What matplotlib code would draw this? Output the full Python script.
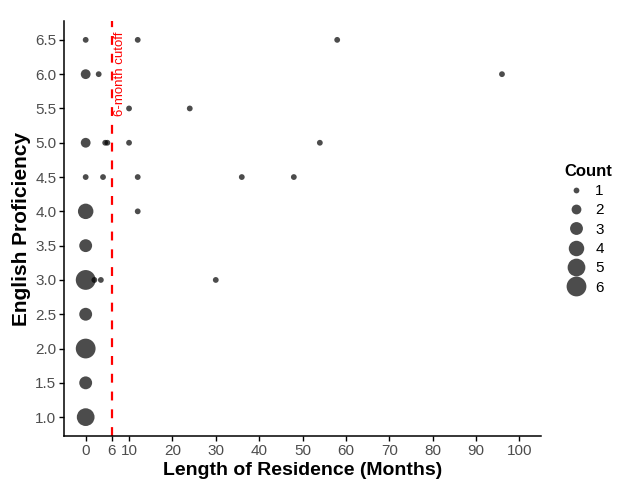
import numpy as np
import matplotlib
matplotlib.use("Agg")
import matplotlib.pyplot as plt
from matplotlib.lines import Line2D

plt.rcParams['font.family'] = ['Liberation Sans', 'DejaVu Sans']

# length of residence (months), english proficiency, number of respondents at that spot
months = [0, 12, 58,
          0, 3, 96,
          10, 24,
          0, 4.5, 5, 10, 54,
          0, 4, 12, 36, 48,
          0, 12,
          0,
          0, 2, 3.5, 30,
          0,
          0,
          0,
          0]
proficiency = [6.5, 6.5, 6.5,
               6.0, 6.0, 6.0,
               5.5, 5.5,
               5.0, 5.0, 5.0, 5.0, 5.0,
               4.5, 4.5, 4.5, 4.5, 4.5,
               4.0, 4.0,
               3.5,
               3.0, 3.0, 3.0, 3.0,
               2.5,
               2.0,
               1.5,
               1.0]
count = [1, 1, 1,
         2, 1, 1,
         1, 1,
         2, 1, 1, 1, 1,
         1, 1, 1, 1, 1,
         4, 1,
         3,
         6, 1, 1, 1,
         3,
         6,
         3,
         5]

cutoff = 6
x_ticks = [0, 6, 10, 20, 30, 40, 50, 60, 70, 80, 90, 100]
y_ticks = [1.0, 1.5, 2.0, 2.5, 3.0, 3.5, 4.0, 4.5, 5.0, 5.5, 6.0, 6.5]
legend_counts = [1, 2, 3, 4, 5, 6]


def diam_pt(c):
    # area-style size scale like ggplot's scale_size (range 1..6)
    size = 1 + 5 * (np.sqrt(c) - 1) / (np.sqrt(6) - 1)
    return (2.8 * size + 3) * 0.72


fig = plt.figure(figsize=(6.17, 4.8), dpi=100)
ax = fig.add_axes([64 / 617, 44 / 480, 477 / 617, 415 / 480])

d = np.array([diam_pt(c) for c in count])
ax.scatter(months, proficiency, s=d ** 2, color='black', alpha=0.7,
           linewidths=0, zorder=3)

ax.axvline(cutoff, color='#FF0000', linewidth=1.6, linestyle=(0, (4, 4)), zorder=2)
ax.text(8.0, 6.0, '6-month cutoff', color='#FF0000', fontsize=9.5,
        rotation=90, ha='center', va='center')

ax.set_xlim(-5, 105)
ax.set_ylim(0.725, 6.775)
ax.set_xticks(x_ticks)
ax.set_yticks(y_ticks)
ax.set_yticklabels(['%.1f' % v for v in y_ticks])

for s in ['top', 'right']:
    ax.spines[s].set_visible(False)
for s in ['left', 'bottom']:
    ax.spines[s].set_linewidth(1.1)
    ax.spines[s].set_color('black')
ax.tick_params(length=3.5, width=1.0, color='black', labelsize=11,
               labelcolor='#4d4d4d', pad=2)

ax.set_xlabel('Length of Residence (Months)', fontsize=14,
              fontweight='bold', labelpad=3)
ax.set_ylabel('English Proficiency', fontsize=15, fontweight='bold',
              labelpad=3)

handles = [Line2D([], [], marker='o', linestyle='', color='black', alpha=0.7,
                  markeredgewidth=0, markersize=diam_pt(c))
           for c in legend_counts]
leg = fig.legend(handles, [str(c) for c in legend_counts], title='Count',
                 loc='upper left', bbox_to_anchor=(551 / 617, 1 - 150 / 480),
                 frameon=False, fontsize=11, labelspacing=0.35,
                 handlelength=1.5, handletextpad=0.5, alignment='left',
                 title_fontproperties={'weight': 'bold', 'size': 12})

fig.savefig('out.png', dpi=100)
